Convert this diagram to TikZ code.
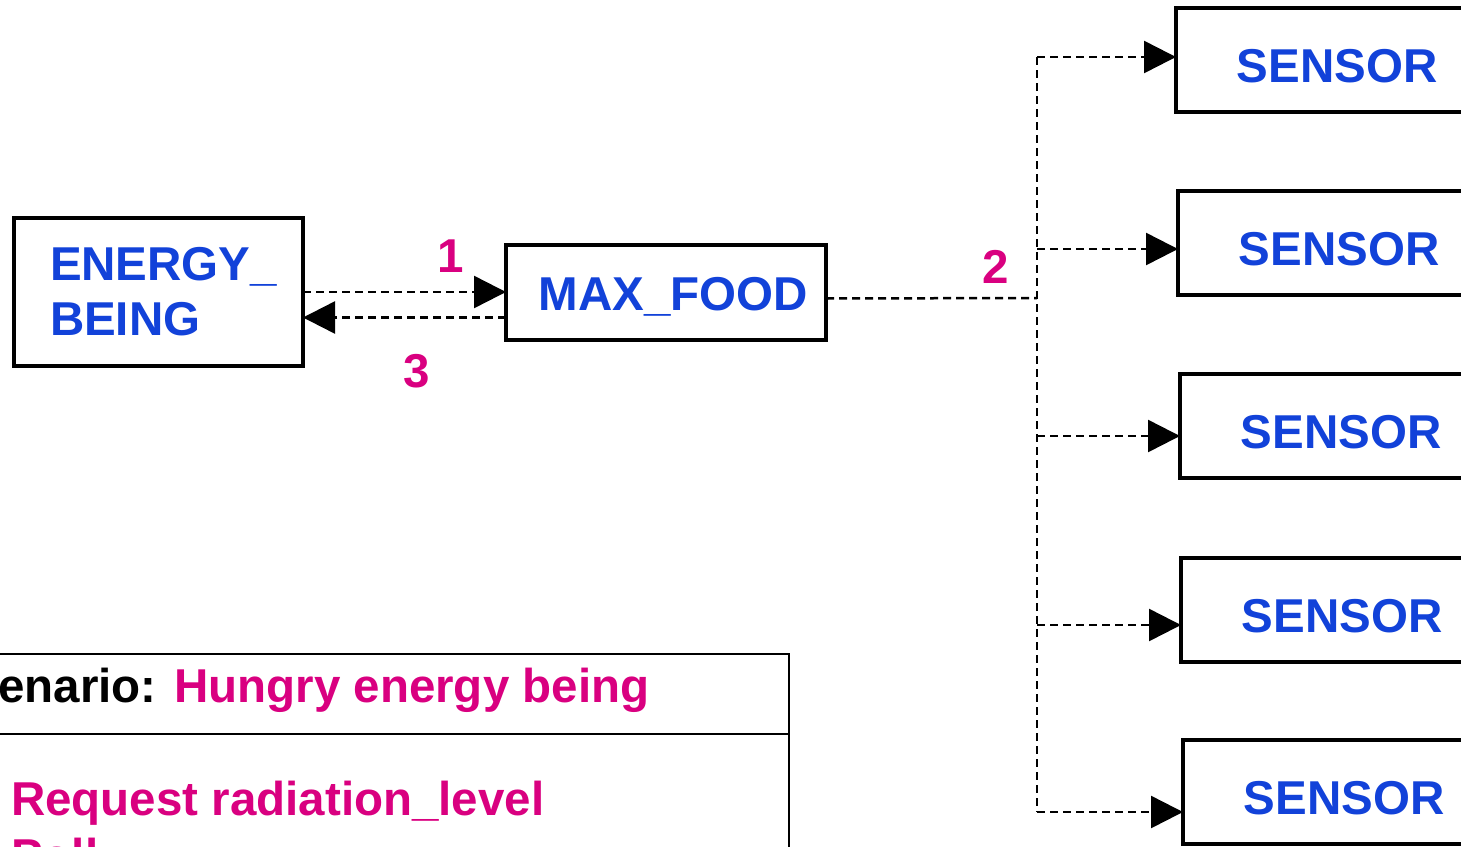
\documentclass[tikz,border=0pt]{standalone}
\usepackage{fontspec}
\setmainfont{Liberation Sans}
\usetikzlibrary{arrows.meta}
\definecolor{boxblue}{RGB}{18,66,217}
\definecolor{mag}{RGB}{217,0,128}
\begin{document}
\begin{tikzpicture}[x=1pt,y=-1pt,
  every node/.style={font=\fontsize{47.5}{55}\selectfont\bfseries},
  box/.style={draw, line width=4pt, outer sep=0pt, inner sep=0pt, rectangle},
  blk/.style={text=boxblue},
  conn/.style={draw, line width=2.5pt, dash pattern=on 8pt off 5pt},
  arr/.style={conn, -{Triangle[length=32pt,width=32pt]}},
  num/.style={text=mag, inner sep=0pt, anchor=base},
  plain/.style={inner sep=0pt, anchor=base west}
]
\useasboundingbox (0,0) rectangle (1461,846);
\clip (0,0) rectangle (1461,846);

\node[box, blk, anchor=north west, minimum width=289pt, minimum height=148pt,
      text width=217pt, inner xsep=36pt, align=left] (eb) at (14,218) {ENERGY\_\\BEING};
\node[box, blk, anchor=north west, minimum width=320pt, minimum height=95pt,
      text height=35pt, text depth=0pt] (mf) at (506,245) {\hspace*{15pt}MAX\_FOOD};

\foreach \n/\x/\y in {1/1176/8, 2/1178/191, 3/1180/374, 4/1181/558, 5/1183/740}
  \node[box, blk, anchor=north west, minimum width=322pt, minimum height=104pt,
        text height=44pt, text depth=0pt] (s\n) at (\x,\y) {SENSOR};

% scenario box
\node[box, line width=2.5pt, anchor=north east, minimum width=900pt, minimum height=300pt] (sc) at (789,654) {};
\draw[line width=2.5pt] (sc.west |- 0,734) -- (sc.east |- 0,734);
\node[plain] (title) at (-60,702) {Scenario: \textcolor{mag}{Hungry energy being}};
\node[plain, text=mag] (req) at (11,815) {Request radiation\_level};
\node[plain, text=mag] (poll) at (11,872) {Poll};

% connectors
\draw[arr] (eb.east) -- (eb.east -| mf.west);
\draw[arr] ([yshift=-25pt]mf.west) -- ([yshift=-25pt]mf.west -| eb.east);

\coordinate (j) at (1037,298);
\coordinate (b1) at (1037,57);
\coordinate (b2) at (1037,249);
\coordinate (b3) at (1037,436);
\coordinate (b4) at (1037,625);
\coordinate (b5) at (1037,812);
\draw[conn] ([yshift=-6pt]mf.east) -- (j);
\draw[conn] (b1) -- (b5);
\foreach \i in {1,...,5}
  \draw[arr] (b\i) -- (b\i -| s\i.west);

% labels
\node[num] (l1) at (451,272) {1};
\node[num] (l3) at (417,387) {3};
\node[num] (l2) at (996,283) {2};
\end{tikzpicture}
\end{document}
